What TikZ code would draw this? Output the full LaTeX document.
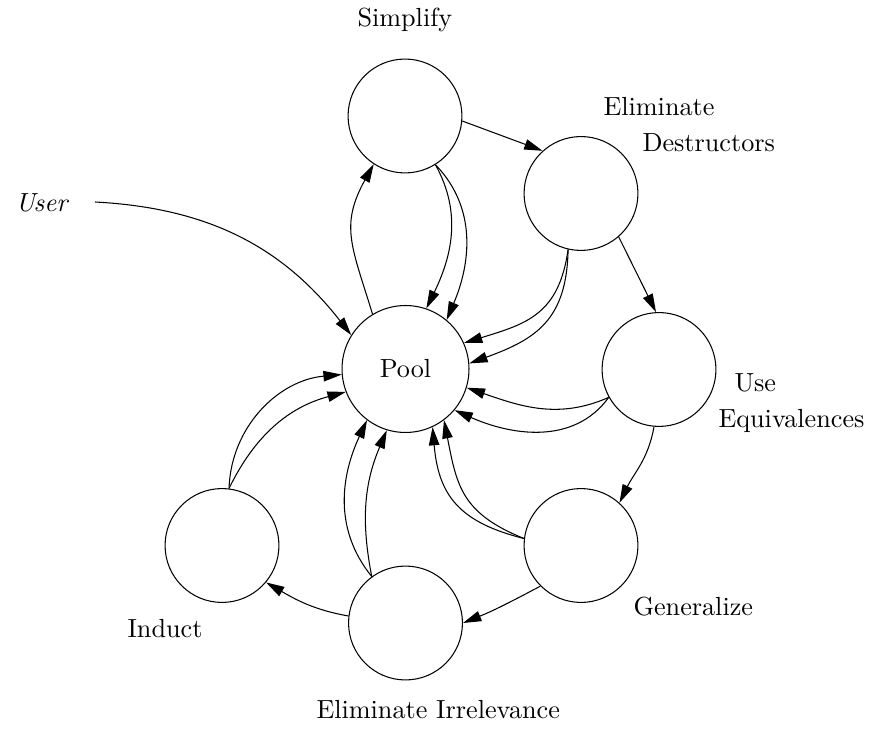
\documentclass[tikz,border=0pt]{standalone}
\usetikzlibrary{arrows.meta}
\begin{document}
\begin{tikzpicture}[x=0.382pt, y=0.382pt,
  stage/.style={draw, circle, minimum size=43.5pt, inner sep=0pt},
  pile/.style={draw, circle, minimum size=48.5pt, inner sep=0pt},
  lbl/.style={anchor=base west, inner sep=0pt},
  flow/.style={-{Triangle[length=7pt,width=4pt]}}]
\useasboundingbox (0,0) rectangle (873,729);

\node [pile] (pool) at (405.5, 360) {Pool};
\node [stage] (simp) at (405, 613) {};
\node [stage] (elimd) at (581, 535.5) {};
\node [stage] (useeq) at (659, 359.5) {};
\node [stage] (gen) at (581, 183.5) {};
\node [stage] (elimi) at (405.5, 106) {};
\node [stage] (induct) at (222, 183.5) {};

\node [lbl] (tsimp) at (357, 702) {Simplify};
\node [lbl] (telim) at (603, 613) {Eliminate};
\node [lbl] (tdestr) at (642, 577) {Destructors};
\node [lbl] (tuse) at (734, 337) {Use};
\node [lbl] (tequiv) at (718, 301) {Equivalences};
\node [lbl] (tgen) at (633, 114) {Generalize};
\node [lbl] (tinduct) at (127, 92) {Induct};
\node [lbl] (tirrel) at (316, 11) {Eliminate Irrelevance};
\node [lbl] (user) at (15, 517) {\textit{User}};
\coordinate (userout) at (95, 527);

% the cycle of stages
\draw [flow] (simp.-5) -- (elimd.132);
\draw [flow] (elimd.-49) -- (useeq.93);
\draw [flow] (useeq.-95) to [out=-100, in=64] (gen.48);
\draw [flow] (gen.-135) to [out=-152, in=22] (elimi.0);
\draw [flow] (elimi.173) to [out=170, in=-30] (induct.-40);

% back into the pool
\draw [flow] (induct.83) to [out=88, in=-175] (pool.-175);
\draw [flow] (induct.83) to [out=64, in=-165] (pool.-159);
\draw [flow] (elimi.126) to [out=129, in=-115] (pool.-127);
\draw [flow] (elimi.126) to [out=101, in=-113] (pool.-107);
\draw [flow] (gen.173) to [out=166, in=-85, looseness=1.2] (pool.-65);
\draw [flow] (gen.173) to [out=158, in=-79, looseness=1.2] (pool.-53);
\draw [flow] (useeq.-151) to [out=-156, in=-19] (pool.-17);
\draw [flow] (useeq.-151) to [out=-126, in=-24] (pool.-40);
\draw [flow] (elimd.-103) to [out=-98, in=17, looseness=1.2] (pool.24);
\draw [flow] (elimd.-103) to [out=-91, in=20, looseness=1.2] (pool.5);
\draw [flow] (simp.-58) to [out=-61, in=64] (pool.71);
\draw [flow] (simp.-58) to [out=-46, in=67] (pool.50);

\draw [flow] (pool.121) to [out=107, in=-119, looseness=1.2] (simp.-123);
\draw [flow] (userout) to [out=-3, in=128] (pool.148);

\end{tikzpicture}
\end{document}
